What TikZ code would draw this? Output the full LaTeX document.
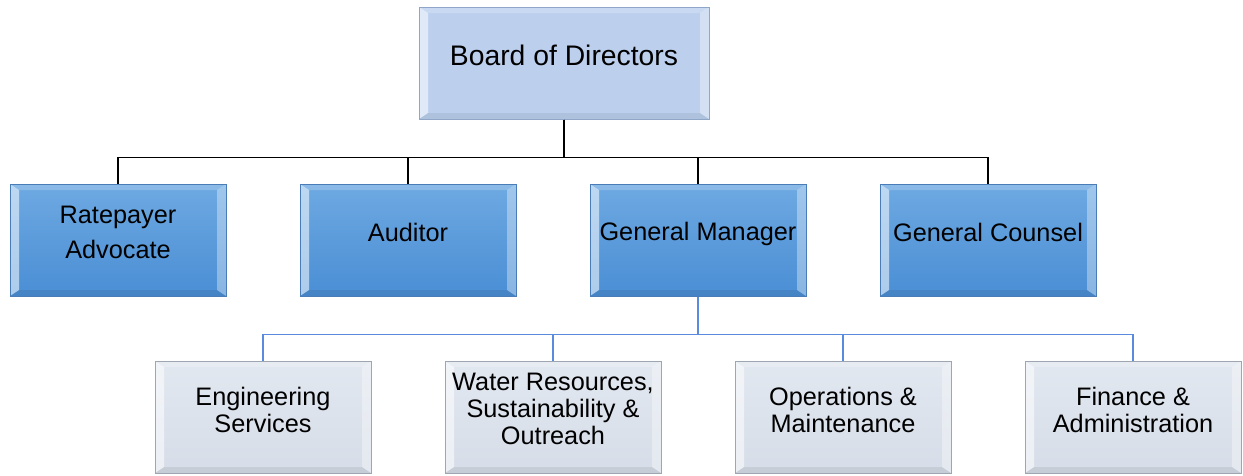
\documentclass[tikz,border=0pt]{standalone}
\usepackage{fontspec}
\setmainfont{Liberation Sans}
\usetikzlibrary{calc}
\definecolor{boardfill}{HTML}{BCD0EE}
\definecolor{boardline}{HTML}{8FA6C8}
\definecolor{ltop}{HTML}{6EA9E2}
\definecolor{lbot}{HTML}{4A8ED4}
\definecolor{lline}{HTML}{4A7DB8}
\definecolor{gtop}{HTML}{E2E8F0}
\definecolor{gbot}{HTML}{D6DDE8}
\definecolor{gline}{HTML}{9EA6B2}
\definecolor{blueconn}{HTML}{5B8BDE}
\begin{document}
\begin{tikzpicture}[x=1pt,y=-1pt,
  bevel/.style={path picture={
    \fill[white,opacity=.2] (path picture bounding box.north west) -- (path picture bounding box.north east)
      -- ($(path picture bounding box.north east)+(-9pt,-6pt)$) -- ($(path picture bounding box.north west)+(9pt,-6pt)$) -- cycle;
    \fill[white,opacity=.55] (path picture bounding box.north west) -- ($(path picture bounding box.north west)+(9pt,-6pt)$)
      -- ($(path picture bounding box.south west)+(9pt,6pt)$) -- (path picture bounding box.south west) -- cycle;
    \fill[white,opacity=.35] (path picture bounding box.north east) -- ($(path picture bounding box.north east)+(-9pt,-6pt)$)
      -- ($(path picture bounding box.south east)+(-9pt,6pt)$) -- (path picture bounding box.south east) -- cycle;
    \fill[black,opacity=.07] (path picture bounding box.south west) -- (path picture bounding box.south east)
      -- ($(path picture bounding box.south east)+(-9pt,6pt)$) -- ($(path picture bounding box.south west)+(9pt,6pt)$) -- cycle;
  }},
  boardbox/.style={rectangle, inner sep=0pt, minimum width=290pt, minimum height=112pt,
    fill=boardfill, draw=boardline, line width=1pt, bevel},
  bluebox/.style={rectangle, inner sep=0pt, minimum width=216pt, minimum height=112pt,
    top color=ltop, bottom color=lbot, draw=lline, line width=1pt, bevel},
  graybox/.style={rectangle, inner sep=0pt, minimum width=216pt, minimum height=112pt,
    top color=gtop, bottom color=gbot, draw=gline, line width=1pt, bevel},
  tboard/.style={align=center, inner sep=0pt, font=\fontsize{28.3}{32}\selectfont},
  tblue/.style={align=center, inner sep=0pt, font=\fontsize{25.3}{35}\selectfont},
  tgray/.style={align=center, inner sep=0pt, font=\fontsize{25.3}{26.7}\selectfont},
  conn1/.style={draw=black, line width=1.3pt},
  conn2/.style={draw=blueconn, line width=1.3pt}
]
\useasboundingbox (0,0) rectangle (1243,475);

% boxes
\node[boardbox] (board) at (564,63) {};
\node[bluebox] (rate) at (118,240) {};
\node[bluebox] (aud) at (408,240) {};
\node[bluebox] (gm) at (698,240) {};
\node[bluebox] (gc) at (988,240) {};
\node[graybox] (eng) at (263,417) {};
\node[graybox] (wat) at (553,417) {};
\node[graybox] (ops) at (843,417) {};
\node[graybox] (fin) at (1133,417) {};

% texts
\node[tboard] (boardT) at ([yshift=8pt]board.center) {Board of Directors};
\node[tblue] (rateT) at ([yshift=8pt]rate.center) {Ratepayer\\Advocate};
\node[tblue] (audT) at ([yshift=8pt]aud.center) {Auditor};
\node[tblue] (gmT) at ([yshift=6pt]gm.center) {General Manager};
\node[tblue] (gcT) at ([yshift=8pt]gc.center) {General Counsel};
\node[tgray] (engT) at ([yshift=7pt]eng.center) {Engineering\\Services};
\node[tgray] (watT) at ([yshift=8pt]wat.center) {Water Resources,\\Sustainability \&\\Outreach};
\node[tgray] (opsT) at ([yshift=7pt]ops.center) {Operations \&\\Maintenance};
\node[tgray] (finT) at ([yshift=7pt]fin.center) {Finance \&\\Administration};

% connectors
\draw[conn1] (board.south) -- ++(0,38) -| (rate.north);
\draw[conn1] (board.south) -- ++(0,38) -| (aud.north);
\draw[conn1] (board.south) -- ++(0,38) -| (gm.north);
\draw[conn1] (board.south) -- ++(0,38) -| (gc.north);
\draw[conn2] (gm.south) -- ++(0,38) -| (eng.north);
\draw[conn2] (gm.south) -- ++(0,38) -| (wat.north);
\draw[conn2] (gm.south) -- ++(0,38) -| (ops.north);
\draw[conn2] (gm.south) -- ++(0,38) -| (fin.north);
\end{tikzpicture}
\end{document}
